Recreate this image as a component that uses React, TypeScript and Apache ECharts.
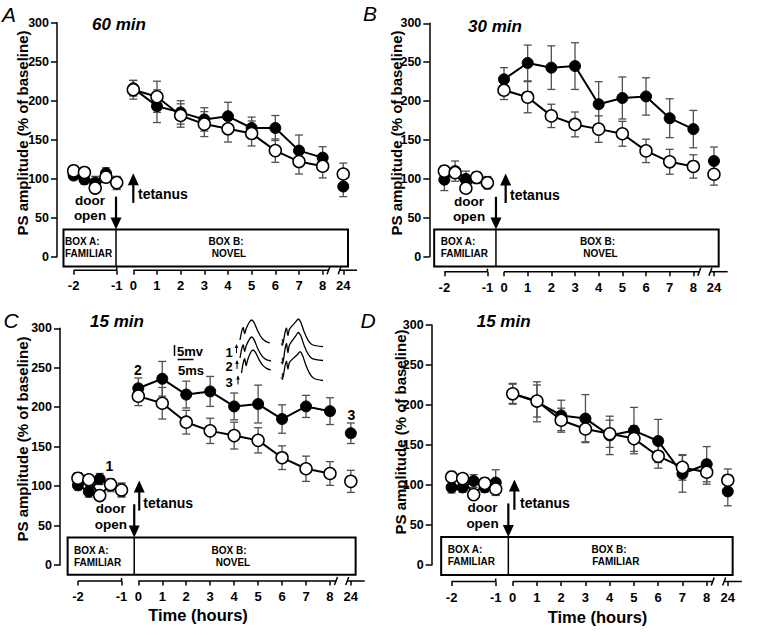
import React, { useEffect, useRef } from 'react';
import * as echarts from 'echarts';

// ---------------- data ----------------
const baseTimes = [-2, -1.75, -1.5, -1.25, -1];
const postTimes = [0, 1, 2, 3, 4, 5, 6, 7, 8];
const lateTime = 24;
const xTickHours = [-2, -1, 0, 1, 2, 3, 4, 5, 6, 7, 8, 24];
const yTicks = [0, 50, 100, 150, 200, 250, 300];

const panelLetters = ['A', 'B', 'C', 'D'];
const panelTitles = ['60 min', '30 min', '15 min', '15 min'];
const boxALabels = ['BOX A:', 'FAMILIAR'];
const boxBLabels = [
  ['BOX B:', 'NOVEL'],
  ['BOX B:', 'NOVEL'],
  ['BOX B:', 'NOVEL'],
  ['BOX B:', 'FAMILIAR'],
];

// open circles (tetanus only, control) - same in every panel
const ctrlBase = [110, 108, 88, 102, 95];
const ctrlBaseErr = [7, 6, 6, 7, 8];
const ctrlPost = [214, 205, 181, 170, 164, 158, 136, 122, 116];
const ctrlPostErr = [12, 20, 15, 16, 17, 16, 15, 16, 15];
const ctrlLate = 106;
const ctrlLateErr = 14;

// filled circles (exploration of box B)
const aBase = [104, 99, 95, 107, 94];
const aBaseErr = [5, 6, 8, 7, 8];
const aPost = [216, 193, 185, 176, 180, 165, 165, 136, 127];
const aPostErr = [10, 21, 15, 15, 18, 14, 16, 20, 14];
const aLate = 90;
const aLateErr = 13;

const bBase = [99, 110, 100, 101, 96];
const bBaseErr = [14, 13, 10, 7, 6];
const bPost = [228, 249, 243, 245, 196, 204, 206, 178, 164];
const bPostErr = [15, 23, 28, 30, 29, 27, 24, 25, 24];
const bLate = 123;
const bLateErr = 18;

const cBase = [101, 93, 109, 101, 95];
const cBaseErr = [6, 7, 7, 8, 9];
const cPost = [224, 236, 216, 220, 201, 204, 185, 201, 195];
const cPostErr = [13, 22, 17, 19, 17, 24, 18, 14, 17];
const cLate = 167;
const cLateErr = 13;

const dBase = [97, 97, 105, 97, 103];
const dBaseErr = [7, 6, 8, 6, 16];
const dPost = [214, 204, 187, 183, 162, 168, 155, 114, 126];
const dPostErr = [13, 25, 19, 30, 24, 29, 27, 23, 22];
const dLate = 92;
const dLateErr = 18;

const filledSets = [
  { base: aBase, baseErr: aBaseErr, post: aPost, postErr: aPostErr, late: aLate, lateErr: aLateErr },
  { base: bBase, baseErr: bBaseErr, post: bPost, postErr: bPostErr, late: bLate, lateErr: bLateErr },
  { base: cBase, baseErr: cBaseErr, post: cPost, postErr: cPostErr, late: cLate, lateErr: cLateErr },
  { base: dBase, baseErr: dBaseErr, post: dPost, postErr: dPostErr, late: dLate, lateErr: dLateErr },
];
const openSet = { base: ctrlBase, baseErr: ctrlBaseErr, post: ctrlPost, postErr: ctrlPostErr, late: ctrlLate, lateErr: ctrlLateErr };

// ---------------- layout ----------------
const FONT = '"Liberation Sans", Arial, Helvetica, sans-serif';

// broken time axis: hours -> axis position
function pos(t: number): number {
  if (t < 0) return -2.52 + (t + 2) * 1.82;
  if (t <= 8) return t;
  return 8.87;
}
const X_MAX = 9.5;

// div = x position (axis units) of the door / box divider, tet = tetanus arrow
const layout = [
  { left: 57, top: 22.7, height: 234, x0: 133.3, sp: 23.67, off: 13.5, div: -0.73, tet: 0 },
  { left: 429.3, top: 23.3, height: 233.4, x0: 504, sp: 23.67, off: 15, div: -0.34, tet: 0.07 },
  { left: 60, top: 328.3, height: 236.7, x0: 138.3, sp: 23.96, off: 16, div: -0.17, tet: 0.04 },
  { left: 431.7, top: 325, height: 240, x0: 512.7, sp: 24.25, off: 16.5, div: -0.18, tet: 0.07 },
];

const textLayout = [
  { letter: [9, 14], title: [92, 24], ytitle: [22.5, 133], door: [90, 200.7], open: [90, 215], tetanus: [138, 194], boxA: [65, 241.7, 253.8], boxB: [[226, 241.7], [229, 253.8]] },
  { letter: [370, 13.5], title: [468, 26], ytitle: [396.7, 133], door: [469, 201.5], open: [469, 216], tetanus: [510, 195], boxA: [440.7, 241.7, 253.8], boxB: [[597.5, 241.7], [600.5, 253.8]] },
  { letter: [11, 320], title: [90, 321], ytitle: [22.5, 439], door: [110.8, 509], open: [110.8, 524], tetanus: [143.3, 503.3], boxA: [74, 550, 562], boxB: [[229, 550], [233, 562]] },
  { letter: [368, 320], title: [476.7, 321], ytitle: [400, 432], door: [482.5, 508.3], open: [482.5, 523.3], tetanus: [520, 502.7], boxA: [447.7, 549.7, 561.8], boxB: [[609, 549.7], [615.8, 561.8]] },
];

function labelFor(v: number): string {
  for (const h of xTickHours) {
    if (Math.abs(pos(h) - v) < 0.01) return String(h);
  }
  return '';
}

function txt(text: string, x: number, y: number, size: number, opts: any = {}) {
  return {
    type: 'text',
    x,
    y,
    rotation: opts.rotation || 0,
    silent: true,
    z: 100,
    style: {
      text,
      fill: '#000',
      fontFamily: FONT,
      fontSize: size,
      fontWeight: opts.weight || 'bold',
      fontStyle: opts.style || 'normal',
      align: opts.align || 'left',
      verticalAlign: 'middle',
    },
  };
}

function tracePts(s: number[], p: number[], e: number[]) {
  const [sx, sy] = s;
  const [px, py] = p;
  const [ex, ey] = e;
  const h = sy - py;
  const d = ey - py;
  return [
    [sx, sy],
    [sx + 1.8, sy - 0.45 * h],
    [sx + 3.2, sy - 0.62 * h],
    [sx + 4.6, sy - 0.32 * h],
    [sx + 6.2, sy - 0.58 * h],
    [px - 2.2, py + 0.1 * h],
    [px, py],
    [px + 2.5, py + 0.12 * d],
    [px + 6, py + 0.48 * d],
    [px + 10, py + 0.78 * d],
    [px + 14, py + 0.93 * d],
    [ex, ey],
  ];
}

function buildOption() {
  const grid: any[] = [];
  const xAxis: any[] = [];
  const yAxis: any[] = [];
  const series: any[] = [];
  const graphic: any[] = [];

  const tickPositions = xTickHours.map(pos);

  layout.forEach((L, i) => {
    const min = -(L.x0 - L.left) / L.sp;
    const width = (X_MAX - min) * L.sp;
    grid.push({ left: L.left, top: L.top, width, height: L.height, containLabel: false, outerBoundsMode: 'none' });
    xAxis.push({
      type: 'value',
      gridIndex: i,
      min,
      max: X_MAX,
      offset: L.off,
      axisLine: { show: false, onZero: false },
      splitLine: { show: false },
      axisTick: { show: true, customValues: tickPositions, length: 4.5, lineStyle: { color: '#000', width: 1.5 } },
      axisLabel: {
        show: true,
        customValues: tickPositions,
        formatter: (v: number) => labelFor(v),
        margin: 9,
        color: '#000',
        fontWeight: 'bold',
        fontSize: 13,
        fontFamily: FONT,
      },
    });
    yAxis.push({
      type: 'value',
      gridIndex: i,
      min: 0,
      max: 300,
      interval: 50,
      axisLine: { show: true, onZero: false, lineStyle: { color: '#000', width: 1.5 } },
      axisTick: { show: true, length: 6, lineStyle: { color: '#000', width: 1.5 } },
      splitLine: { show: false },
      axisLabel: { margin: 8, color: '#000', fontWeight: 'bold', fontSize: 12.5, fontFamily: FONT },
    });

    // decorations: box, arrows, broken x axis line
    series.push({
      type: 'custom',
      xAxisIndex: i,
      yAxisIndex: i,
      z: 0,
      silent: true,
      clip: false,
      data: [[0, 0]],
      renderItem: (_params: any, api: any) => {
        const P = (x: number, y: number) => api.coord([x, y]);
        const [bl, bt] = P(-2.95, 35);
        const [br, bb] = P(9.07, -12.5);
        const xd = P(L.div, 0)[0];
        const xt = P(L.tet, 0)[0];
        const ay = P(0, 0)[1] + L.off;
        const xs = (v: number) => P(v, 0)[0];
        const blk = { stroke: '#000', lineWidth: 1.5 };
        const downTop = P(0, 77)[1];
        const upTip = P(0, 107)[1];
        const upBot = P(0, 69)[1];
        return {
          type: 'group',
          children: [
            { type: 'rect', shape: { x: bl, y: bt, width: br - bl, height: bb - bt }, style: { fill: 'transparent', stroke: '#000', lineWidth: 2 } },
            { type: 'line', shape: { x1: xd, y1: bt, x2: xd, y2: bb }, style: blk },
            { type: 'line', shape: { x1: xd, y1: downTop, x2: xd, y2: bt - 8 }, style: { stroke: '#000', lineWidth: 2.2 } },
            { type: 'polygon', shape: { points: [[xd - 5.5, bt - 12], [xd + 5.5, bt - 12], [xd, bt]] }, style: { fill: '#000' } },
            { type: 'line', shape: { x1: xt, y1: upBot, x2: xt, y2: upTip + 8 }, style: { stroke: '#000', lineWidth: 2.2 } },
            { type: 'polygon', shape: { points: [[xt - 5.5, upTip + 12], [xt + 5.5, upTip + 12], [xt, upTip]] }, style: { fill: '#000' } },
            { type: 'line', shape: { x1: xs(pos(-2)), y1: ay, x2: xs(pos(-1)), y2: ay }, style: blk },
            { type: 'line', shape: { x1: xs(pos(-1)), y1: ay - 3, x2: xs(pos(-1)), y2: ay }, style: blk },
            { type: 'line', shape: { x1: xs(0), y1: ay, x2: xs(8.25), y2: ay }, style: blk },
            { type: 'line', shape: { x1: xs(8.72), y1: ay, x2: xs(9.45), y2: ay }, style: blk },
            { type: 'line', shape: { x1: xs(8.25) - 1.5, y1: ay + 4, x2: xs(8.25) + 1.5, y2: ay - 4 }, style: blk },
            { type: 'line', shape: { x1: xs(8.72) - 1.5, y1: ay + 4, x2: xs(8.72) + 1.5, y2: ay - 4 }, style: blk },
          ],
        };
      },
    });

    const groups = [
      { set: filledSets[i], filled: true },
      { set: openSet, filled: false },
    ];

    // error bars
    const errData: number[][] = [];
    groups.forEach(({ set }) => {
      baseTimes.forEach((t, k) => errData.push([pos(t), set.base[k], set.baseErr[k]]));
      postTimes.forEach((t, k) => errData.push([pos(t), set.post[k], set.postErr[k]]));
      errData.push([pos(lateTime), set.late, set.lateErr]);
    });
    series.push({
      type: 'custom',
      xAxisIndex: i,
      yAxisIndex: i,
      z: 1,
      silent: true,
      clip: false,
      data: errData,
      encode: { x: 0, y: 1 },
      renderItem: (_params: any, api: any) => {
        const x = api.value(0);
        const y = api.value(1);
        const e = api.value(2);
        const top = api.coord([x, y + e]);
        const bot = api.coord([x, y - e]);
        const hw = 4;
        const st = { stroke: '#505050', lineWidth: 1.3 };
        return {
          type: 'group',
          children: [
            { type: 'line', shape: { x1: top[0], y1: top[1], x2: bot[0], y2: bot[1] }, style: st },
            { type: 'line', shape: { x1: top[0] - hw, y1: top[1], x2: top[0] + hw, y2: top[1] }, style: st },
            { type: 'line', shape: { x1: bot[0] - hw, y1: bot[1], x2: bot[0] + hw, y2: bot[1] }, style: st },
          ],
        };
      },
    });

    groups.forEach(({ set, filled }) => {
      const itemStyle = filled
        ? { color: '#000', borderColor: '#000', borderWidth: 1, opacity: 1 }
        : { color: '#fff', borderColor: '#000', borderWidth: 1.5, opacity: 1 };
      const z = filled ? 3 : 4;
      const common = {
        xAxisIndex: i,
        yAxisIndex: i,
        symbol: 'circle',
        symbolSize: filled ? 11 : 12,
        itemStyle,
        z,
        silent: true,
      };
      series.push({
        ...common,
        type: 'line',
        data: baseTimes.map((t, k) => [pos(t), set.base[k]]),
        lineStyle: { color: '#000', width: 2 },
      });
      series.push({
        ...common,
        type: 'line',
        data: postTimes.map((t, k) => [pos(t), set.post[k]]),
        lineStyle: { color: '#000', width: 2 },
      });
      series.push({
        ...common,
        type: 'scatter',
        data: [[pos(lateTime), set.late]],
      });
    });

    // texts
    const T = textLayout[i];
    graphic.push(txt(panelLetters[i], T.letter[0], T.letter[1], 21, { weight: 'normal', style: 'italic', align: 'center' }));
    graphic.push(txt(panelTitles[i], T.title[0], T.title[1], 17, { style: 'italic' }));
    graphic.push(txt('PS amplitude (% of baseline)', T.ytitle[0], T.ytitle[1], 15, { align: 'center', rotation: Math.PI / 2 }));
    graphic.push(txt('door', T.door[0], T.door[1] - 0.5, 13.5, { align: 'center' }));
    graphic.push(txt('open', T.open[0], T.open[1] + 0.5, 13.5, { align: 'center' }));
    graphic.push(txt('tetanus', T.tetanus[0], T.tetanus[1], 14));
    graphic.push(txt(boxALabels[0], T.boxA[0], T.boxA[1], 10));
    graphic.push(txt(boxALabels[1], T.boxA[0], T.boxA[2], 10));
    graphic.push(txt(boxBLabels[i][0], T.boxB[0][0], T.boxB[0][1], 10, { align: 'center' }));
    graphic.push(txt(boxBLabels[i][1], T.boxB[1][0], T.boxB[1][1], 10, { align: 'center' }));
  });

  // x-axis titles
  graphic.push(txt('Time (hours)', 198, 615, 16.5, { align: 'center' }));
  graphic.push(txt('Time (hours)', 597.5, 617, 16.5, { align: 'center' }));

  // panel C annotations: sample points and inset traces
  graphic.push(txt('1', 109.5, 466, 14, { align: 'center' }));
  graphic.push(txt('2', 138, 370, 14, { align: 'center' }));
  graphic.push(txt('3', 351.5, 415, 14, { align: 'center' }));

  // scale bar
  graphic.push({ type: 'line', shape: { x1: 174.5, y1: 345, x2: 174.5, y2: 356 }, style: { stroke: '#000', lineWidth: 1.5 } });
  graphic.push(txt('5mv', 177, 351, 13));
  graphic.push({ type: 'line', shape: { x1: 177.5, y1: 359.5, x2: 193.5, y2: 359.5 }, style: { stroke: '#000', lineWidth: 1.5 } });
  graphic.push(txt('5ms', 178, 370, 13));

  const leftTraces = [
    [[240, 340], [251.7, 320], [270, 343]],
    [[240, 358], [251.7, 337], [271, 361]],
    [[241.5, 373], [253, 350], [271, 370]],
  ];
  const rightTraces = [
    [[283.3, 343], [298.3, 319], [323, 346.7]],
    [[283.3, 361.7], [298.3, 332.5], [323, 360.5]],
    [[283.3, 377], [300, 351.7], [323, 380.5]],
  ];
  [...leftTraces, ...rightTraces].forEach((tr) => {
    graphic.push({
      type: 'polyline',
      silent: true,
      shape: { points: tracePts(tr[0], tr[1], tr[2]), smooth: 0.25 },
      style: { stroke: '#000', lineWidth: 1.3, fill: null },
    });
  });
  // stimulus markers and numbers
  const stim = [
    ['1', 229, 352, 236.5, 353],
    ['2', 229, 366.7, 237, 369],
    ['3', 229, 382, 238, 384.5],
  ];
  stim.forEach((s: any) => {
    graphic.push(txt(s[0], s[1], s[2], 13, { align: 'center' }));
    graphic.push({ type: 'line', shape: { x1: s[3], y1: s[4], x2: s[3], y2: s[4] - 8 }, style: { stroke: '#000', lineWidth: 1 } });
    graphic.push({ type: 'polygon', shape: { points: [[s[3] - 1.8, s[4] - 5], [s[3] + 1.8, s[4] - 5], [s[3], s[4] - 9]] }, style: { fill: '#000' } });
  });
  // right-group artifacts
  rightTraces.forEach((tr) => {
    const [sx, sy] = tr[0];
    graphic.push({ type: 'line', shape: { x1: sx - 2.5, y1: sy + 1, x2: sx + 0.5, y2: sy + 1 }, style: { stroke: '#000', lineWidth: 1 } });
    graphic.push({ type: 'line', shape: { x1: sx - 1, y1: sy + 3, x2: sx - 1, y2: sy - 4 }, style: { stroke: '#000', lineWidth: 1 } });
  });

  return {
    animation: false,
    backgroundColor: '#fff',
    grid,
    xAxis,
    yAxis,
    series,
    graphic: { elements: graphic },
  };
}

export default function App() {
  const ref = useRef<HTMLDivElement>(null);
  useEffect(() => {
    if (!ref.current) return;
    const chart = echarts.init(ref.current, null, { renderer: 'svg' });
    chart.setOption(buildOption() as any);
    return () => chart.dispose();
  }, []);
  return (
    <div
      ref={ref}
      style={{ position: 'fixed', left: 0, top: 0, width: 760, height: 635, background: '#fff' }}
    />
  );
}
